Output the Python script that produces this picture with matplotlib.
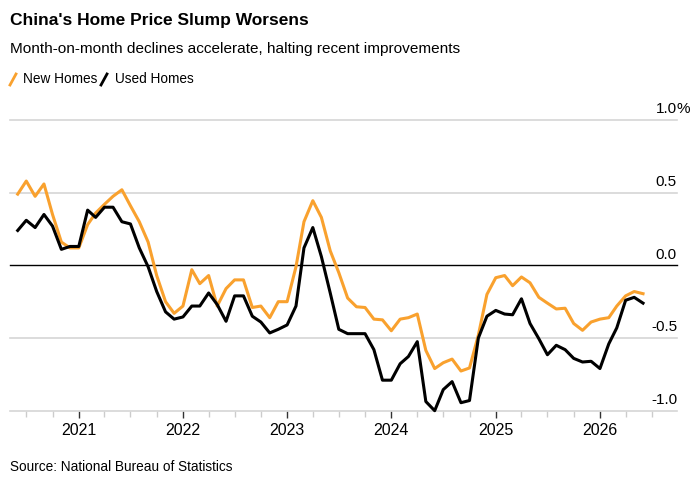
import pandas as pd
import matplotlib.pyplot as plt
import matplotlib.dates as mdates

# monthly change in home prices, %, Jun 2020 - Jun 2026
dates = pd.date_range('2020-06-01', periods=73, freq='MS')

new_homes = [0.49, 0.58, 0.475, 0.56, 0.35, 0.16, 0.12, 0.12, 0.28, 0.36,
             0.42, 0.475, 0.52, 0.41, 0.30, 0.16, -0.07, -0.25, -0.33, -0.28,
             -0.03, -0.126, -0.07, -0.28, -0.16, -0.10, -0.10, -0.29, -0.28, -0.36,
             -0.25, -0.25, -0.01, 0.30, 0.445, 0.33, 0.10, -0.05, -0.225, -0.285,
             -0.29, -0.37, -0.375, -0.45, -0.37, -0.36, -0.335, -0.585, -0.71, -0.67,
             -0.645, -0.727, -0.706, -0.48, -0.20, -0.085, -0.07, -0.14, -0.08, -0.12,
             -0.22, -0.26, -0.30, -0.295, -0.40, -0.447, -0.39, -0.37, -0.36, -0.28,
             -0.21, -0.18, -0.195]

used_homes = [0.24, 0.31, 0.26, 0.35, 0.27, 0.11, 0.13, 0.13, 0.38, 0.33,
              0.40, 0.40, 0.30, 0.285, 0.12, -0.01, -0.18, -0.32, -0.37, -0.355,
              -0.28, -0.28, -0.19, -0.27, -0.385, -0.21, -0.21, -0.35, -0.39, -0.465,
              -0.44, -0.41, -0.28, 0.12, 0.26, 0.06, -0.19, -0.44, -0.47, -0.47,
              -0.47, -0.58, -0.79, -0.79, -0.677, -0.627, -0.525, -0.937, -1.0, -0.855,
              -0.80, -0.945, -0.93, -0.50, -0.35, -0.31, -0.335, -0.34, -0.23, -0.40,
              -0.505, -0.615, -0.55, -0.58, -0.64, -0.665, -0.66, -0.71, -0.54, -0.43,
              -0.24, -0.22, -0.26]

y_ticks = [-1.0, -0.5, 0.0, 0.5, 1.0]
y_labels = ['-1.0', '-0.5', '0.0', '0.5', '1.0']

orange = '#f9a12e'
plt.rcParams['font.family'] = ['Liberation Sans', 'DejaVu Sans']

fig = plt.figure(figsize=(6.99, 4.87), dpi=100)
ax = fig.add_axes([10/699, 1 - 410.7/487, 667/699, 290.7/487])

#grid lines drawn by hand so the zero line can be black
for v, lab in zip(y_ticks, y_labels):
    if v == 0:
        ax.axhline(v, color='black', lw=1.0, zorder=1)
    elif v > -1:
        ax.axhline(v, color='#d6d6d6', lw=1.2, zorder=0)
    ax.text(1.0, v + 0.025, lab, transform=ax.get_yaxis_transform(),
            ha='right', va='bottom', fontsize=11, color='black')
ax.text(0.999, 1.025, '%', transform=ax.get_yaxis_transform(),
        ha='left', va='bottom', fontsize=11, color='black')

ax.plot(dates, new_homes, color=orange, lw=2.2, zorder=3)
ax.plot(dates, used_homes, color='black', lw=2.2, zorder=4)

ax.set_ylim(-1.0, 1.0)
ax.set_xlim(pd.Timestamp('2020-05-05'), pd.Timestamp('2026-09-28'))
ax.set_yticks([])

ax.xaxis.set_major_locator(mdates.YearLocator())
ax.xaxis.set_major_formatter(mdates.DateFormatter('%Y'))
ax.xaxis.set_minor_locator(mdates.MonthLocator(bymonth=[4, 7, 10]))
ax.tick_params(axis='x', which='major', length=5, width=1, color='#333333',
               labelsize=11.5, pad=4)
ax.tick_params(axis='x', which='minor', length=4, width=1, color='#cccccc')

for s in ['top', 'left', 'right']:
    ax.spines[s].set_visible(False)
ax.spines['bottom'].set_color('#d6d6d6')
ax.spines['bottom'].set_linewidth(1.2)
for line in ax.get_lines():
    line.set_clip_on(False)

#titles
fig.text(10/699, 1 - 20/487, "China's Home Price Slump Worsens", fontsize=12.5,
         fontweight='bold', va='center', ha='left')
fig.text(10/699, 1 - 49/487, 'Month-on-month declines accelerate, halting recent improvements',
         fontsize=11.1, va='center', ha='left')

#legend
fig.lines.append(plt.Line2D([10/699, 16/699], [1 - 85/487, 1 - 74/487], color=orange,
                            lw=2, transform=fig.transFigure))
fig.text(23/699, 1 - 79/487, 'New Homes', fontsize=9.8, va='center', ha='left')
fig.lines.append(plt.Line2D([101/699, 107/699], [1 - 85/487, 1 - 74/487], color='black',
                            lw=2, transform=fig.transFigure))
fig.text(115/699, 1 - 79/487, 'Used Homes', fontsize=9.8, va='center', ha='left')

fig.text(10/699, 1 - 467/487, 'Source: National Bureau of Statistics', fontsize=9.8,
         va='center', ha='left')

plt.savefig('out.png', dpi=100)
